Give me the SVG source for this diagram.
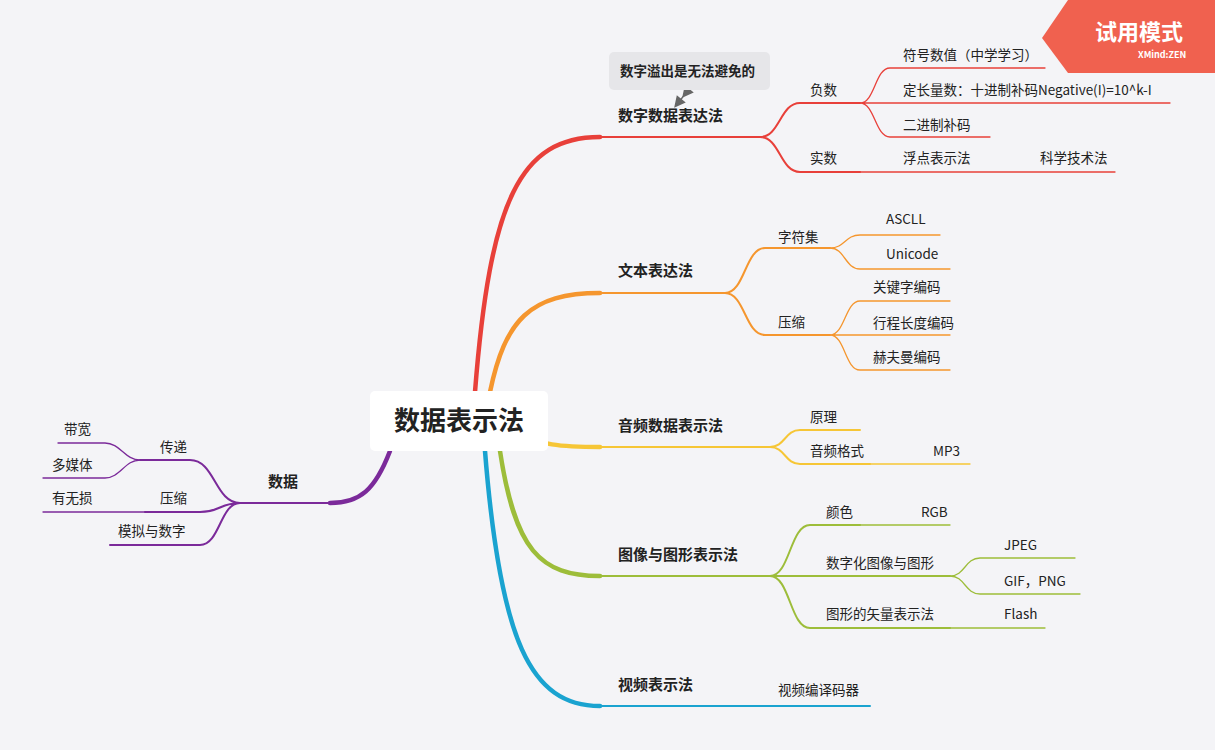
<svg xmlns="http://www.w3.org/2000/svg" width="1215" height="750" viewBox="0 0 1215 750">
<style>
text{font-family:"Noto Sans CJK SC","Liberation Sans",sans-serif;fill:#222;font-size:13.5px}
.m{font-size:15px;font-weight:bold}
path{fill:none;stroke-linecap:round}
.r{stroke:#e8403a}.o{stroke:#f5962e}.y{stroke:#f6c636}.g{stroke:#9dbd3a}.b{stroke:#1aa3d0}.p{stroke:#7b2a9a}
.t{stroke-width:4.5}.s{stroke-width:2}.f{stroke-width:1.3}
</style>
<defs><marker id="ah" markerWidth="8" markerHeight="8" refX="4" refY="4" orient="auto"><path d="M1,1 L7,4 L1,7 Z" style="fill:#666;stroke:#666;stroke-width:1"/></marker></defs>
<rect width="1215" height="750" fill="#f4f4f7"/>
<g id="connectors">
<path class="r t" d="M475,392 C490,200 520,137 600,137"/>
<path class="r s" d="M600,137 H760 C780,137 780,103 800,103 H860 M760,137 C780,137 780,172 800,172 H860"/>
<path class="r f" d="M860,103 C875,103 875,68 890,68 H1045 M860,103 H1170 M860,103 C875,103 875,137 890,137 H990 M860,172 H1115"/>
<path class="o t" d="M490,392 C505,320 530,293 600,293"/>
<path class="o s" d="M600,293 H725 C745,293 745,248 765,248 H830 M725,293 C745,293 745,335 765,335 H830"/>
<path class="o f" d="M830,248 C845,248 845,235 860,235 H940 M830,248 C845,248 845,269 860,269 H950 M830,335 C845,335 845,301 860,301 H950 M830,335 H950 M830,335 C845,335 845,370 860,370 H950"/>
<path class="y t" d="M515,432 C540,445 560,447 600,447"/>
<path class="y s" d="M600,447 H770 C785,447 785,430 800,430 H860 M770,447 C785,447 785,464 800,464 H870"/>
<path class="y f" d="M870,464 H970"/>
<path class="g t" d="M500,451 C515,550 540,576 600,576"/>
<path class="g s" d="M600,576 H770 C790,576 790,525 810,525 H860 M770,576 H950 M770,576 C790,576 790,628 810,628 H950"/>
<path class="g f" d="M860,525 H950 M950,576 C965,576 965,558 980,558 H1075 M950,576 C965,576 965,594 980,594 H1080 M950,628 H1045"/>
<path class="b t" d="M485,451 C500,640 530,706 600,706"/>
<path class="b s" d="M600,706 H720"/>
<path class="b f" d="M720,706 H870" style="stroke-width:2"/>
<path class="p t" d="M390,451 C375,490 360,503 330,503"/>
<path class="p s" d="M335,503 H240 C215,503 215,460 190,460 H140 M240,503 C220,503 220,512 200,512 H145 M240,503 C220,503 220,545 200,545 H110"/>
<path class="p f" d="M140,460 C125,460 120,443 105,443 H58 M140,460 C125,460 120,478 105,478 H43 M145,512 H43"/>
<path d="M686,93 L678,103" style="stroke:#666;stroke-width:1.5;stroke-dasharray:3 2" marker-start="url(#ah)" marker-end="url(#ah)"/>
</g>
<g id="root"><rect x="370" y="391" width="178" height="60" rx="5" fill="#fff"/><text x="459" y="430" text-anchor="middle" style="font-size:26px;font-weight:bold">数据表示法</text></g>
<g id="callout"><rect x="609" y="52" width="161" height="38" rx="5" fill="#e6e6e9"/><text x="620" y="76" style="font-weight:bold">数字溢出是无法避免的</text></g>
<g id="n-red"><text class="m" x="618" y="121">数字数据表达法</text><text x="810" y="95">负数</text><text x="903" y="60">符号数值（中学学习）</text><text x="903" y="95">定长量数：十进制补码Negative(I)=10^k-I</text><text x="903" y="130">二进制补码</text><text x="810" y="163">实数</text><text x="903" y="163">浮点表示法</text><text x="1040" y="163">科学技术法</text></g>
<g id="n-orange"><text class="m" x="618" y="276">文本表达法</text><text x="778" y="242">字符集</text><text x="886" y="224">ASCLL</text><text x="886" y="259">Unicode</text><text x="778" y="327">压缩</text><text x="873" y="292">关键字编码</text><text x="873" y="328">行程长度编码</text><text x="873" y="362">赫夫曼编码</text></g>
<g id="n-yellow"><text class="m" x="618" y="431">音频数据表示法</text><text x="810" y="422">原理</text><text x="810" y="456">音频格式</text><text x="933" y="456">MP3</text></g>
<g id="n-green"><text class="m" x="618" y="560">图像与图形表示法</text><text x="826" y="517">颜色</text><text x="921" y="517">RGB</text><text x="826" y="568">数字化图像与图形</text><text x="1004" y="550">JPEG</text><text x="1004" y="586">GIF，PNG</text><text x="826" y="619">图形的矢量表示法</text><text x="1004" y="619">Flash</text></g>
<g id="n-blue"><text class="m" x="618" y="690">视频表示法</text><text x="778" y="695">视频编译码器</text></g>
<g id="n-purple"><text class="m" x="268" y="487">数据</text><text x="160" y="452">传递</text><text x="160" y="503">压缩</text><text x="118" y="536">模拟与数字</text><text x="64" y="434">带宽</text><text x="52" y="470">多媒体</text><text x="52" y="503">有无损</text></g>
<g id="watermark"><polygon points="1042,38 1068,0 1215,0 1215,73 1068,73" fill="#f0614f"/><text x="1095" y="40" style="fill:#fff;font-size:22px;font-weight:bold">试用模式</text><text x="1138" y="58" style="fill:#fff;font-size:9px;font-weight:bold">XMind:ZEN</text></g>
</svg>
